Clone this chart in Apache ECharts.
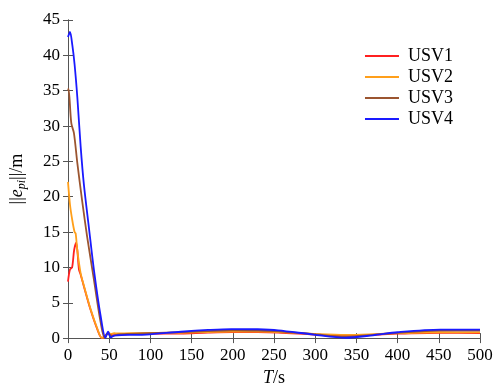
<!DOCTYPE html>
<html>
<head>
<meta charset="utf-8">
<script src="https://cdn.jsdelivr.net/npm/echarts@6/dist/echarts.min.js"></script>
<style>html,body{margin:0;padding:0;background:#fff}#c{width:498px;height:392px}</style>
</head>
<body>
<div id="c"></div>
<script>
// ---- data ----
const seriesNames = ['USV1', 'USV2', 'USV3', 'USV4'];
const xTicks = [0, 50, 100, 150, 200, 250, 300, 350, 400, 450, 500];
const yTicks = [0, 5, 10, 15, 20, 25, 30, 35, 40, 45];

const t1 = [0, 2.4, 5, 7.5, 10, 13.3, 15.3, 19.3, 27.4, 35.4, 41, 44, 48, 51, 55, 60, 75, 100, 137, 170, 200, 230, 255, 298, 337, 370, 400, 452, 500];
const v1 = [8.0, 9.7, 10.0, 12.5, 13.5, 9.7, 9.0, 7.3, 4.0, 1.3, 0.05, 0.1, 0.6, 0.5, 0.4, 0.5, 0.55, 0.6, 0.65, 0.78, 0.85, 0.85, 0.78, 0.5, 0.3, 0.45, 0.62, 0.75, 0.72];

const t2 = [0, 2.4, 5.3, 8, 9.3, 11.3, 15.3, 19.3, 27.4, 35.4, 41, 45, 49, 52, 56, 60, 75, 100, 137, 170, 200, 230, 255, 298, 337, 370, 400, 452, 500];
const v2 = [22.1, 18.9, 16.6, 15.0, 14.8, 12.4, 9.2, 7.4, 4.1, 1.4, 0.05, 0.2, 0.8, 0.6, 0.7, 0.65, 0.7, 0.72, 0.75, 0.85, 0.92, 0.92, 0.85, 0.6, 0.45, 0.55, 0.7, 0.83, 0.8];

const t3 = [0, 0.6, 4, 7.2, 11.3, 17.3, 23.3, 31.4, 39.5, 44.3, 47, 50, 54, 60, 75, 100, 137, 170, 200, 230, 255, 298, 337, 370, 400, 452, 500];
const v3 = [35.0, 35.3, 30.4, 29.0, 24.8, 19.3, 14.3, 8.3, 2.3, 0.05, 0.6, 0.5, 0.3, 0.5, 0.6, 0.7, 0.85, 1.0, 1.1, 1.05, 0.95, 0.55, 0.2, 0.45, 0.75, 1.05, 1.05];

const t4 = [0, 2.4, 5.3, 8, 11.3, 15.3, 19.3, 25.4, 31.4, 39.5, 45.5, 48.7, 52, 56, 60, 75, 95, 137, 170, 198, 230, 255, 298, 337, 370, 400, 452, 500];
const v4 = [42.6, 43.3, 41.4, 38.7, 34.1, 27.2, 21.7, 15.6, 9.7, 3.2, 0.05, 0.9, 0.1, 0.35, 0.4, 0.45, 0.5, 0.9, 1.15, 1.28, 1.25, 1.1, 0.5, 0.05, 0.4, 0.83, 1.2, 1.2];

const times = [t1, t2, t3, t4];
const values = [v1, v2, v3, v4];
const colors = ['#ff2020', '#ff9f1a', '#9b5530', '#1a1aff'];

// ---- chart ----
const FONT = 'Liberation Serif';
const chart = echarts.init(document.getElementById('c'), null, {renderer: 'canvas'});
const axisLine = {show: true, lineStyle: {color: '#555', width: 1}};
const tickIn = {show: true, inside: true, length: 5, lineStyle: {color: '#555'}};

const series = seriesNames.map((n, i) => ({
  name: n,
  type: 'line',
  smooth: 0.3,
  symbol: 'none',
  lineStyle: {width: 1.8, color: colors[i]},
  itemStyle: {color: colors[i]},
  data: times[i].map((t, k) => [t, values[i][k]])
}));

chart.setOption({
  animation: false,
  backgroundColor: '#fff',
  grid: {left: 66, right: 18, top: 20, bottom: 46, containLabel: false},
  legend: {
    data: seriesNames.map(n => ({name: n, icon: 'rect'})),
    orient: 'vertical',
    right: 40,
    top: 42,
    itemWidth: 34,
    itemHeight: 2,
    itemGap: 3,
    textStyle: {fontFamily: FONT, fontSize: 18, color: '#000', padding: [0, 0, 0, 4]}
  },
  xAxis: [{
    type: 'value', min: xTicks[0], max: xTicks[xTicks.length - 1], interval: 50,
    axisLine, axisTick: tickIn, splitLine: {show: false},
    axisLabel: {fontFamily: FONT, fontSize: 17, color: '#000', margin: 9},
    name: '{i|T}/s', nameLocation: 'middle', nameGap: 29,
    nameTextStyle: {fontFamily: FONT, fontSize: 18, color: '#000', rich: {i: {fontFamily: FONT, fontSize: 18, fontStyle: 'italic', color: '#000'}}}
  }, {
    type: 'value', position: 'top', min: 0, max: 500, interval: 50,
    axisLine, axisTick: tickIn, axisLabel: {show: false}, splitLine: {show: false}
  }],
  yAxis: [{
    type: 'value', min: yTicks[0], max: yTicks[yTicks.length - 1], interval: 5,
    axisLine, axisTick: tickIn, splitLine: {show: false},
    axisLabel: {fontFamily: FONT, fontSize: 17, color: '#000', margin: 8},
    name: '{a|||}{e|e}{s|pi}{a|||/m}', nameLocation: 'middle', nameGap: 40, nameRotate: 90,
    nameTextStyle: {
      fontFamily: FONT, fontSize: 18, color: '#000',
      rich: {
        a: {fontFamily: FONT, fontSize: 18, color: '#000', lineHeight: 22},
        e: {fontFamily: FONT, fontSize: 18, fontStyle: 'italic', color: '#000', lineHeight: 22},
        s: {fontFamily: FONT, fontSize: 12, fontStyle: 'italic', color: '#000', lineHeight: 22, verticalAlign: 'bottom', padding: [8, 0, 0, 0]}
      }
    }
  }, {
    type: 'value', position: 'right', min: 0, max: 45, interval: 5,
    axisLine, axisTick: tickIn, axisLabel: {show: false}, splitLine: {show: false}
  }],
  series
});
</script>
</body>
</html>
